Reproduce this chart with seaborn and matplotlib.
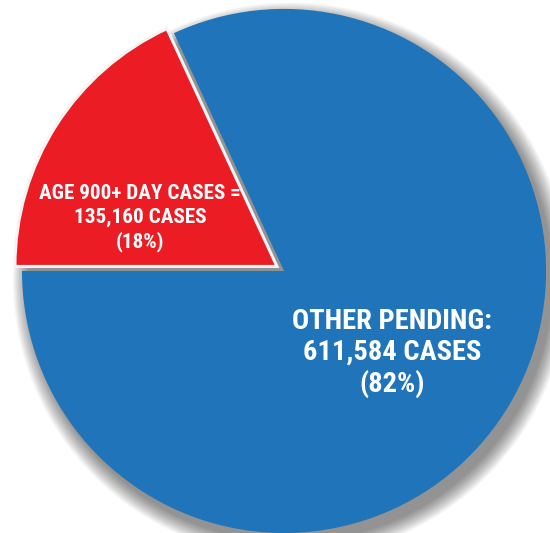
import matplotlib
matplotlib.use("Agg")
import matplotlib.pyplot as plt
import seaborn as sns
import numpy as np
from matplotlib.patches import Circle

sns.set_theme(style="white")
plt.rcParams['font.family'] = ['Roboto Condensed', 'Liberation Sans', 'DejaVu Sans']

# Data
categories = ["AGE 900+ DAY CASES =", "OTHER PENDING:"]
values = [135160, 611584]
percents = ["18%", "82%"]
colors = ["#EC1C24", "#1F74BA"]

fig = plt.figure(figsize=(5.5, 5.33), dpi=100)
ax = fig.add_axes([0, 0, 1, 1])
ax.set_axis_off()

total = sum(values)
start = 180 - 360 * values[0] / total

# soft drop shadow behind the pie
for i in range(18):
    rr = 1.0 + 0.06 * (1 - i / 17)
    ax.add_patch(Circle((0.025, -0.035), rr, facecolor="black", alpha=0.026,
                        edgecolor="none", zorder=0))

wedges, _ = ax.pie(values, colors=colors, startangle=start, counterclock=True,
                   explode=[0.032, 0.0], radius=1.0, center=(0, 0),
                   wedgeprops=dict(linewidth=0), frame=False)
wedges[0].set_edgecolor("#F4F4F4")
wedges[0].set_linewidth(2.2)
wedges[0].set_zorder(3)
wedges[1].set_zorder(2)

ax.set_xlim(-1.084, 1.015)
ax.set_ylim(-1.0, 1.034)
ax.set_aspect("auto")

ax.text(140 / 550, 1 - 218 / 533,
        f"{categories[0]}\n{values[0]:,} CASES\n({percents[0]})",
        transform=ax.transAxes, ha="center", va="center", color="white",
        fontsize=15.2, fontweight="bold", linespacing=1.28, zorder=5)
ax.text(392 / 550, 1 - 353 / 533,
        f"{categories[1]}\n{values[1]:,} CASES\n({percents[1]})",
        transform=ax.transAxes, ha="center", va="center", color="white",
        fontsize=20.5, fontweight="bold", linespacing=1.2, zorder=5)

fig.savefig("out.png", dpi=100, facecolor="white")
